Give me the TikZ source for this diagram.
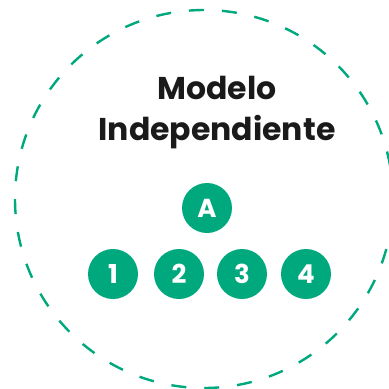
\documentclass[tikz,border=0pt]{standalone}
\usepackage{fontspec}
\setmainfont{Poppins}
\definecolor{teal}{RGB}{0,168,126}
\definecolor{ink}{RGB}{26,26,26}
\begin{document}
\begin{tikzpicture}[x=1pt,y=-1pt,
  dot/.style={circle,fill=teal,minimum size=50pt,inner sep=0pt,text=white,font=\fontsize{26}{26}\selectfont\bfseries},
  ring/.style={draw=teal,line width=2.4pt,dash pattern=on 15pt off 18pt},
  title/.style={text=ink,font=\fontsize{31.5}{41}\selectfont\bfseries,align=center,inner sep=0pt}]
\useasboundingbox (0,0) rectangle (389,389);
\node[circle,ring,minimum size=378pt,inner sep=0pt] (ring) at (204,199) {};
\node[title,anchor=base] (t1) at (217,99) {Modelo};
\node[title,anchor=base] (t2) at (217,140) {Independiente};
\node[dot] (A) at (207,208) {A};
\node[dot] (n1) at (113,274) {1};
\node[dot] (n2) at (179,274) {2};
\node[dot] (n3) at (242,274) {3};
\node[dot] (n4) at (306,274) {4};
\end{tikzpicture}
\end{document}
